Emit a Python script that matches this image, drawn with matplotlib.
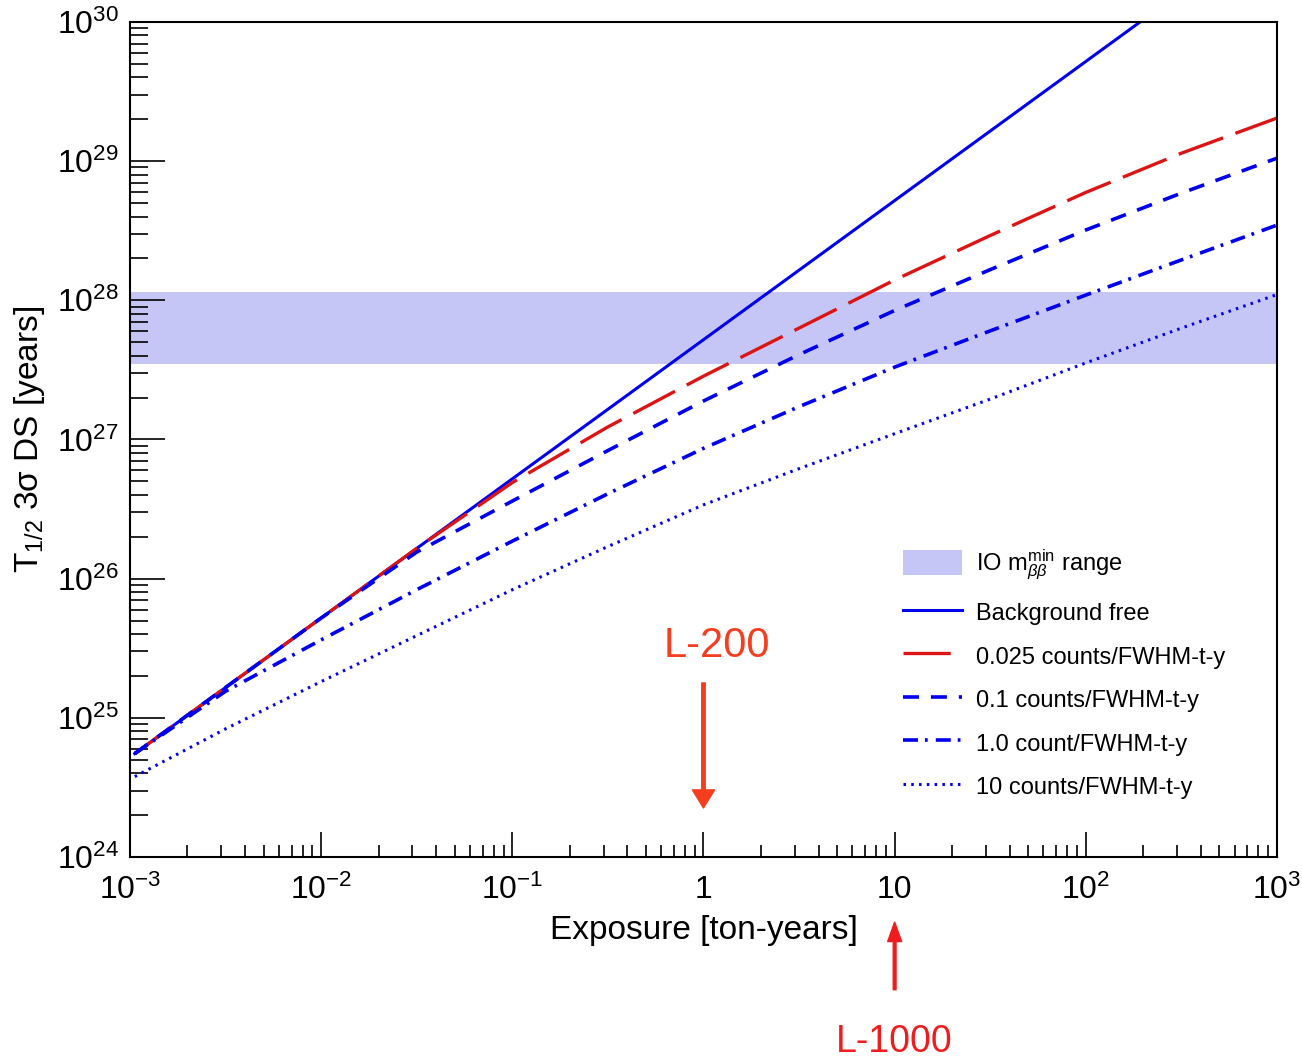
import matplotlib
matplotlib.use("Agg")
import matplotlib.pyplot as plt
from matplotlib.ticker import FixedLocator, FixedFormatter, LogLocator, NullFormatter

plt.rcParams['font.family'] = ['Liberation Sans', 'DejaVu Sans']
plt.rcParams['mathtext.fontset'] = 'custom'
plt.rcParams['mathtext.rm'] = 'Liberation Sans'
plt.rcParams['mathtext.it'] = 'Liberation Sans:italic'
plt.rcParams['mathtext.bf'] = 'Liberation Sans:bold'
plt.rcParams['lines.scale_dashes'] = False

# exposure in ton-years, half-decade steps
exposure = [1.06e-3, 3.16e-3, 1e-2, 3.16e-2, 0.1, 0.316, 1, 3.16, 10, 31.6, 100, 316, 1000]

# 3 sigma discovery sensitivity T1/2 [years]
bkg_free_exposure = [1.06e-3, 1e3]
bkg_free = [5.53e24, 5.2e30]
bkg_0025 = [5.53e24, 1.65e25, 5.21e25, 1.65e26, 4.90e26, 1.23e27, 2.85e27,
            6.31e27, 1.40e28, 2.92e28, 5.96e28, 1.14e29, 2.04e29]
bkg_01 = [5.53e24, 1.65e25, 5.21e25, 1.55e26, 3.61e26, 8.32e26, 1.89e27,
          4.07e27, 8.45e27, 1.66e28, 3.20e28, 5.89e28, 1.05e29]
bkg_1 = [5.53e24, 1.55e25, 3.63e25, 8.32e25, 1.86e26, 4.07e26, 8.63e26,
         1.72e27, 3.31e27, 6.03e27, 1.09e28, 1.95e28, 3.47e28]
bkg_10 = [3.78e24, 8.32e24, 1.82e25, 3.89e25, 8.32e25, 1.70e26, 3.39e26,
          6.17e26, 1.10e27, 1.95e27, 3.55e27, 6.31e27, 1.10e28]

# IO m_bb^min band
io_band = [3.48e27, 1.146e28]

x_ticks = [1e-3, 1e-2, 1e-1, 1, 10, 1e2, 1e3]
x_ticklabels = ['$10^{-3}$', '$10^{-2}$', '$10^{-1}$', '1', '10', '$10^{2}$', '$10^{3}$']
y_ticks = [1e24, 1e25, 1e26, 1e27, 1e28, 1e29, 1e30]
y_ticklabels = ['$10^{24}$', '$10^{25}$', '$10^{26}$', '$10^{27}$', '$10^{28}$', '$10^{29}$', '$10^{30}$']

blue = '#0000ee'
red = '#dd1414'

fig = plt.figure(figsize=(13.02, 10.61), dpi=100)
ax = fig.add_axes([0.0998, 0.1923, 0.881, 0.787])

ax.axhspan(io_band[0], io_band[1], color='#c6c6f6', lw=0, zorder=0,
           label=r'IO $\mathrm{m}_{\beta\beta}^{\mathrm{min}}$ range')
ax.plot(bkg_free_exposure, bkg_free, color=blue, lw=2.2, label='Background free')
ax.plot(exposure, bkg_0025, color=red, lw=2.4, dashes=(34, 9.5), label='0.025 counts/FWHM-t-y')
ax.plot(exposure, bkg_01, color=blue, lw=2.6, dashes=(11.5, 8.6), label='0.1 counts/FWHM-t-y')
ax.plot(exposure, bkg_1, color=blue, lw=2.6, dashes=(10.8, 5, 2, 5.8), label='1.0 count/FWHM-t-y')
ax.plot(exposure, bkg_10, color=blue, lw=2.2, dashes=(1.8, 3.8), label='10 counts/FWHM-t-y')

ax.set_xscale('log')
ax.set_yscale('log')
ax.set_xlim(1e-3, 1e3)
ax.set_ylim(1e24, 1e30)

ax.xaxis.set_major_locator(FixedLocator(x_ticks))
ax.xaxis.set_major_formatter(FixedFormatter(x_ticklabels))
ax.yaxis.set_major_locator(FixedLocator(y_ticks))
ax.yaxis.set_major_formatter(FixedFormatter(y_ticklabels))
ax.xaxis.set_minor_locator(LogLocator(base=10, subs=range(2, 10), numticks=20))
ax.yaxis.set_minor_locator(LogLocator(base=10, subs=range(2, 10), numticks=20))
ax.xaxis.set_minor_formatter(NullFormatter())
ax.yaxis.set_minor_formatter(NullFormatter())

ax.tick_params(which='both', direction='in', top=False, right=False, width=1.2)
ax.tick_params(axis='x', which='major', length=18, labelsize=23, pad=13)
ax.tick_params(axis='x', which='minor', length=8.6)
ax.tick_params(axis='y', which='major', length=25, labelsize=23, pad=8)
ax.tick_params(axis='y', which='minor', length=13)
for s in ax.spines.values():
    s.set_linewidth(1.5)

ax.set_xlabel('Exposure [ton-years]', fontsize=24)
ax.set_ylabel(r'$\mathrm{T}_{1/2}$ 3σ DS [years]', fontsize=24)
ax.xaxis.set_label_coords(0.5, -0.0695)
ax.yaxis.set_label_coords(-0.072, 0.5)

ax.legend(loc='upper left', bbox_to_anchor=(0.674, 0.3705), frameon=False,
          fontsize=17, handlelength=2.5, handleheight=1.26, handletextpad=0.59,
          labelspacing=0.76, borderpad=0, borderaxespad=0)

# L-200 arrow
ax.text(1.18, 3.3e25, 'L-200', color='#f53d20', fontsize=30, ha='center', va='center')
ax.annotate('', xy=(1, 2.25e24), xytext=(1, 1.78e25),
            arrowprops=dict(facecolor='#f53d20', edgecolor='#f53d20',
                            width=2.5, headwidth=16, headlength=13))

# L-1000 arrow below the axis
ax.annotate('', xy=(10, -0.078), xytext=(10, -0.159),
            xycoords=('data', 'axes fraction'), textcoords=('data', 'axes fraction'),
            annotation_clip=False,
            arrowprops=dict(facecolor='#ee1c1c', edgecolor='#ee1c1c',
                            width=2, headwidth=10, headlength=14))
ax.annotate('L-1000', xy=(10, -0.221), xycoords=('data', 'axes fraction'),
            color='#ee1c1c', fontsize=27, ha='center', va='center', annotation_clip=False)

fig.savefig('out.png', dpi=100)
